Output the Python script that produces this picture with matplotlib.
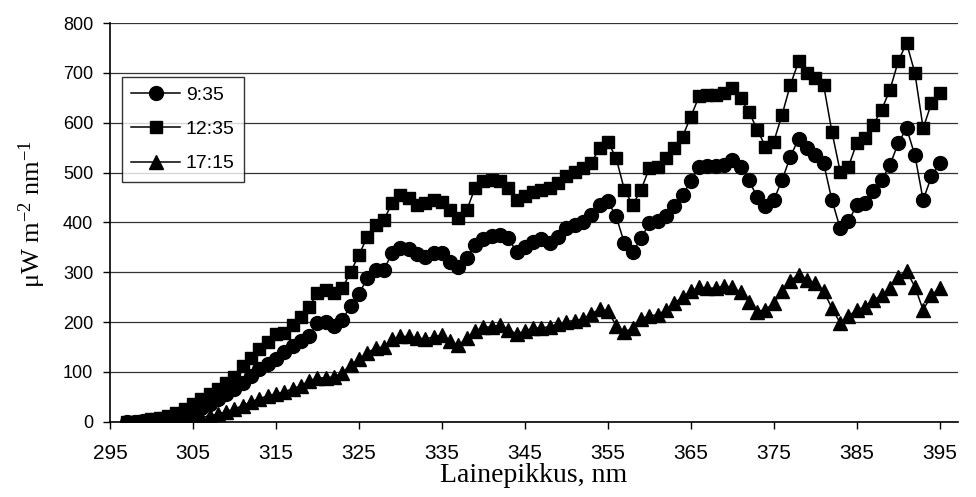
import numpy as np
import matplotlib
matplotlib.use("Agg")
import matplotlib.pyplot as plt

# wavelength, 1 nm steps
wavelength = list(range(297, 396))

# 9:35
morning = [
    0, 0, 1, 3, 5, 8, 12, 16, 20, 28,            # 297-306
    35, 45, 55, 65, 78, 92, 105, 115, 125, 140,  # 307-316
    152, 162, 172, 198, 200, 192, 205, 232, 256, 288,  # 317-326
    305, 305, 338, 348, 346, 336, 330, 338, 338, 320,  # 327-336
    311, 328, 355, 366, 372, 375, 368, 341, 350, 361,  # 337-346
    366, 358, 370, 388, 394, 400, 415, 435, 442, 412,  # 347-356
    358, 341, 368, 398, 402, 412, 432, 455, 482, 512,  # 357-366
    513, 514, 515, 525, 512, 485, 450, 432, 445, 485,  # 367-376
    532, 568, 549, 535, 519, 445, 388, 402, 435, 438,  # 377-386
    462, 485, 515, 559, 589, 535, 445, 492, 519,       # 387-395
]

# 12:35
noon = [
    0, 0, 2, 5, 8, 12, 18, 25, 35, 45,
    55, 65, 78, 90, 112, 128, 145, 160, 175, 178,
    195, 210, 230, 258, 265, 258, 268, 300, 335, 370,
    395, 405, 438, 455, 449, 435, 438, 445, 440, 425,
    408, 425, 469, 482, 485, 482, 469, 445, 452, 460,
    465, 469, 478, 492, 502, 510, 519, 549, 562, 529,
    465, 435, 465, 509, 512, 529, 549, 572, 612, 653,
    655, 656, 659, 669, 649, 622, 586, 552, 562, 616,
    676, 723, 700, 690, 676, 582, 502, 512, 559, 569,
    596, 626, 666, 723, 760, 700, 589, 639, 659,
]

# 17:15
evening = [
    0, 0, 0, 0, 0, 1, 2, 3, 5, 8,
    12, 15, 20, 26, 32, 40, 46, 52, 56, 60,
    66, 72, 82, 88, 88, 90, 98, 114, 125, 138,
    148, 150, 165, 171, 171, 168, 166, 170, 174, 161,
    154, 167, 181, 190, 190, 194, 185, 176, 182, 188,
    188, 191, 196, 201, 203, 206, 216, 226, 222, 193,
    180, 188, 207, 212, 215, 224, 238, 250, 262, 270,
    268, 268, 272, 270, 260, 240, 221, 225, 238, 262,
    283, 295, 285, 278, 262, 228, 198, 212, 224, 231,
    244, 254, 268, 291, 302, 271, 224, 254, 268,
]

labels = ["9:35", "12:35", "17:15"]
x_ticks = list(range(295, 396, 10))
y_ticks = list(range(0, 801, 100))

plt.rcParams['font.family'] = ['Liberation Sans', 'DejaVu Sans']
plt.rcParams['mathtext.fontset'] = 'custom'
plt.rcParams['mathtext.rm'] = 'Liberation Serif'
plt.rcParams['mathtext.it'] = 'Liberation Serif:italic'
plt.rcParams['mathtext.default'] = 'regular'

fig = plt.figure(figsize=(9.76, 4.97), dpi=100)
ax = fig.add_axes([110 / 976, 1 - 421.7 / 497, 848 / 976, 398.7 / 497])

# horizontal gridlines
ax.yaxis.grid(True, color='#333333', linewidth=0.9)
ax.set_axisbelow(True)

ax.plot(wavelength, morning, color='black', linewidth=1.1, marker='o',
        markersize=10, label=labels[0])
ax.plot(wavelength, noon, color='black', linewidth=1.1, marker='s',
        markersize=9, label=labels[1])
ax.plot(wavelength, evening, color='black', linewidth=1.1, marker='^',
        markersize=10, label=labels[2])

ax.set_xlim(295, 397.2)
ax.set_ylim(0, 800)
ax.set_xticks(x_ticks)
ax.set_yticks(y_ticks)
ax.tick_params(axis='x', direction='out', length=5, width=1, pad=11, labelsize=15)
ax.tick_params(axis='y', direction='out', length=5, width=1, pad=7, labelsize=13)

for side in ['top', 'right']:
    ax.spines[side].set_visible(False)
ax.spines['left'].set_linewidth(1.2)
ax.spines['bottom'].set_linewidth(1.2)

ax.set_xlabel('Lainepikkus, nm', family='Liberation Serif', fontsize=20, labelpad=0)
fig.text(32 / 976, 1 - 214 / 497, r'$\mu$W m$^{-2}$ nm$^{-1}$',
         family='Liberation Serif', fontsize=19, rotation=90,
         ha='center', va='center')

leg = ax.legend(loc='upper left', bbox_to_anchor=(0.0138, 0.865), borderaxespad=0,
                fontsize=14, frameon=True, fancybox=False, edgecolor='black',
                handlelength=2.5, handletextpad=0.3, labelspacing=0.85,
                borderpad=0.5)
leg.get_frame().set_linewidth(1.0)

fig.savefig('out.png', dpi=100)
